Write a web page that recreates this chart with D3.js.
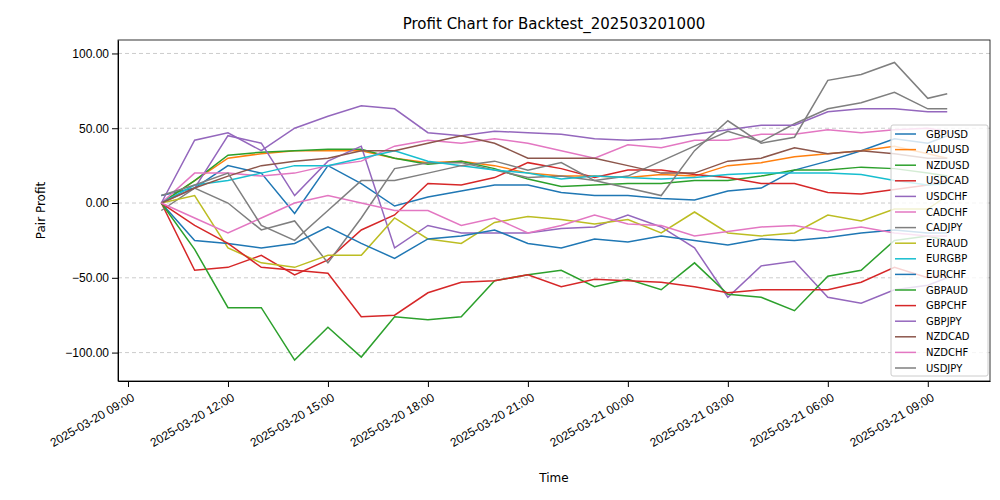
<!DOCTYPE html>
<html>
<head>
<meta charset="utf-8">
<script src="https://cdn.jsdelivr.net/npm/d3@7"></script>
<style>
  body { margin: 0; font-family: "DejaVu Sans", sans-serif; background: #fff; }
  .grid line { stroke: #ccc; stroke-dasharray: 4,3; }
  .axis text { font-size: 12px; fill: #000; }
  .line { fill: none; stroke-width: 1.5; }
</style>
</head>
<body>
<div id="chart"></div>
<script>
const times = ["2025-03-20 10:00","2025-03-20 11:00","2025-03-20 12:00","2025-03-20 13:00","2025-03-20 14:00",
  "2025-03-20 15:00","2025-03-20 16:00","2025-03-20 17:00","2025-03-20 18:00","2025-03-20 19:00",
  "2025-03-20 20:00","2025-03-20 21:00","2025-03-20 22:00","2025-03-20 23:00","2025-03-21 00:00",
  "2025-03-21 01:00","2025-03-21 02:00","2025-03-21 03:00","2025-03-21 04:00","2025-03-21 05:00",
  "2025-03-21 06:00","2025-03-21 07:00","2025-03-21 08:00","2025-03-21 09:00","2025-03-21 09:35"];

const pairs = ["GBPUSD","AUDUSD","NZDUSD","USDCAD","USDCHF","CADCHF","CADJPY","EURAUD",
  "EURGBP","EURCHF","GBPAUD","GBPCHF","GBPJPY","NZDCAD","NZDCHF","USDJPY"];

const colors = ["#1f77b4","#ff7f0e","#2ca02c","#d62728","#9467bd","#e377c2","#7f7f7f","#bcbd22",
  "#17becf","#1f77b4","#2ca02c","#d62728","#9467bd","#8c564b","#e377c2","#7f7f7f"];

const GBPUSD = [5,10,25,20,-7,25,13,-2,4,8,12,12,7,5,5,3,2,8,10,22,28,35,43,40,45];
const AUDUSD = [0,15,30,33,35,35,35,30,27,28,25,20,18,18,17,19,18,25,27,31,33,35,38,33,30];
const NZDUSD = [0,15,32,34,35,36,36,30,26,28,23,16,11,12,13,13,15,15,18,22,22,24,23,20,18];
const USDCAD = [0,-45,-43,-35,-48,-38,-18,-8,13,12,17,27,23,17,22,22,19,17,13,13,7,6,9,12,15];
const USDCHF = [0,10,45,40,5,28,38,-30,-15,-20,-20,-20,-17,-16,-8,-16,-30,-63,-42,-39,-63,-67,-58,-55,-50];
const CADCHF = [0,20,20,18,20,25,28,38,42,40,43,40,35,30,39,37,42,42,46,46,49,47,49,50,48];
const CADJPY = [-5,10,0,-18,-12,-40,-10,23,27,27,22,17,18,15,18,28,38,48,41,53,63,67,74,63,63];
const EURAUD = [0,5,-30,-40,-43,-35,-35,-10,-24,-27,-13,-9,-11,-14,-11,-20,-6,-20,-22,-20,-8,-12,-4,-4,5];
const EURGBP = [0,12,15,20,25,25,30,35,28,25,22,20,16,18,17,16,17,19,20,20,20,19,15,12,13];
const EURCHF = [0,-25,-27,-30,-27,-16,-27,-37,-24,-22,-18,-27,-30,-24,-26,-22,-25,-28,-24,-25,-23,-20,-18,-20,-20];
const GBPAUD = [0,-31,-70,-70,-105,-83,-103,-76,-78,-76,-52,-48,-45,-56,-51,-58,-40,-61,-63,-72,-49,-45,-25,-22,-25];
const GBPCHF = [0,-15,-27,-43,-45,-47,-76,-75,-60,-53,-52,-48,-56,-51,-52,-53,-56,-60,-58,-58,-58,-53,-43,-50,-48];
const GBPJPY = [0,42,47,35,50,58,65,63,47,45,48,47,46,43,42,43,46,49,52,52,61,63,63,61,61];
const NZDCAD = [0,10,18,25,28,30,35,35,40,45,40,30,30,30,25,20,20,28,30,37,33,35,33,30,30];
const NZDCHF = [0,-10,-20,-10,0,5,0,-5,-5,-15,-10,-20,-15,-8,-14,-15,-22,-19,-16,-15,-19,-16,-20,-22,-22];
const USDJPY = [5,12,20,-15,-25,-5,15,15,20,25,28,22,27,15,10,5,35,55,40,44,82,86,94,70,73];

const values = [GBPUSD,AUDUSD,NZDUSD,USDCAD,USDCHF,CADCHF,CADJPY,EURAUD,
  EURGBP,EURCHF,GBPAUD,GBPCHF,GBPJPY,NZDCAD,NZDCHF,USDJPY];

const yTicks = [-100, -50, 0, 50, 100];

const parseTime = d3.timeParse("%Y-%m-%d %H:%M");
const formatTime = d3.timeFormat("%Y-%m-%d %H:%M");

const margin = {top: 40, right: 10, bottom: 119, left: 118};
const width = 1000 - margin.left - margin.right;
const height = 500 - margin.top - margin.bottom;

const svg = d3.select("#chart").append("svg")
  .attr("width", 1000).attr("height", 500);

const plot = svg.append("g")
  .attr("transform", `translate(${margin.left},${margin.top})`);

const xScale = d3.scaleTime()
  .domain([parseTime("2025-03-20 08:42"), parseTime("2025-03-21 10:52")])
  .range([0, width]);

const yScale = d3.scaleLinear()
  .domain([-119, 109])
  .range([height, 0]);

// dashed horizontal grid
plot.append("g").attr("class", "grid")
  .selectAll("line").data(yTicks).enter().append("line")
  .attr("x1", 0).attr("x2", width)
  .attr("y1", d => yScale(d)).attr("y2", d => yScale(d));

const line = d3.line()
  .x((d, i) => xScale(parseTime(times[i])))
  .y(d => yScale(d));

plot.selectAll(".line").data(values).enter().append("path")
  .attr("class", "line")
  .attr("stroke", (d, i) => colors[i])
  .attr("d", d => line(d));

const xAxis = d3.axisBottom(xScale)
  .ticks(d3.timeHour.every(3))
  .tickFormat(formatTime)
  .tickSizeOuter(0);

plot.append("g").attr("class", "axis x-axis")
  .attr("transform", `translate(0,${height})`)
  .call(xAxis)
  .selectAll("text")
  .attr("text-anchor", "end")
  .attr("transform", "rotate(-30)")
  .attr("dx", "-0.3em").attr("dy", "0.9em");

plot.append("g").attr("class", "axis y-axis")
  .call(d3.axisLeft(yScale).tickValues(yTicks).tickFormat(d3.format(".2f")).tickSizeOuter(0));

plot.append("rect")
  .attr("width", width).attr("height", height)
  .attr("fill", "none").attr("stroke", "#000").attr("stroke-width", 0.8);

svg.append("text")
  .attr("x", margin.left + width / 2).attr("y", 29)
  .attr("text-anchor", "middle").attr("font-size", 15)
  .text("Profit Chart for Backtest_202503201000");

svg.append("text")
  .attr("x", margin.left + width / 2).attr("y", 482)
  .attr("text-anchor", "middle").attr("font-size", 12)
  .text("Time");

svg.append("text")
  .attr("transform", `translate(45,${margin.top + height / 2}) rotate(-90)`)
  .attr("text-anchor", "middle").attr("font-size", 12)
  .text("Pair Profit");

// legend
const legend = svg.append("g").attr("transform", "translate(891,125)");
legend.append("rect")
  .attr("width", 97).attr("height", 251).attr("rx", 2)
  .attr("fill", "#fff").attr("fill-opacity", 0.8)
  .attr("stroke", "#ccc");

const item = legend.selectAll(".item").data(pairs).enter().append("g")
  .attr("transform", (d, i) => `translate(0,${9 + i * 15.6})`);
item.append("line")
  .attr("x1", 4).attr("x2", 25)
  .attr("stroke", (d, i) => colors[i]).attr("stroke-width", 1.5);
item.append("text")
  .attr("x", 35).attr("dy", "0.35em").attr("font-size", 10)
  .text(d => d);
</script>
</body>
</html>
